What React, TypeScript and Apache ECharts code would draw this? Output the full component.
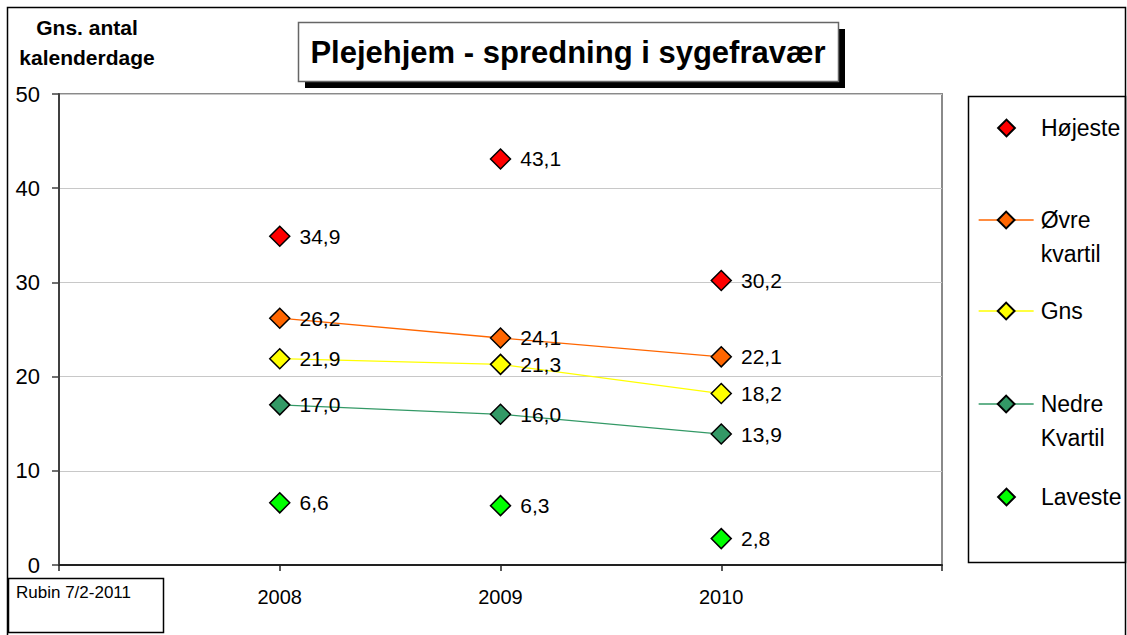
import React, { useEffect, useRef } from "react";
import * as echarts from "echarts";

const categories = ["", "2008", "2009", "2010", ""];
const seriesNames = ["Højeste", "Øvre kvartil", "Gns", "Nedre Kvartil", "Laveste"];
const hojeste = [34.9, 43.1, 30.2];
const ovreKvartil = [26.2, 24.1, 22.1];
const gns = [21.9, 21.3, 18.2];
const nedreKvartil = [17.0, 16.0, 13.9];
const laveste = [6.6, 6.3, 2.8];
const seriesValues = [hojeste, ovreKvartil, gns, nedreKvartil, laveste];
const seriesColors = ["#FF0000", "#FF6600", "#FFFF00", "#339966", "#00FF00"];
const seriesHasLine = [false, true, true, true, false];
const yTicks = { min: 0, max: 50, interval: 10 };

const FONT = "Arial, 'Liberation Sans', sans-serif";

export default function App() {
  const ref = useRef<HTMLDivElement>(null);

  useEffect(() => {
    if (!ref.current) return;
    const chart = echarts.init(ref.current, null, { renderer: "svg" });

    const pad = (arr: number[]) => [null, ...arr, null];

    const series = seriesNames.map((name, i) => ({
      name,
      type: "line",
      data: pad(seriesValues[i]),
      symbol: "diamond",
      symbolSize: 20,
      showSymbol: true,
      connectNulls: false,
      itemStyle: { color: seriesColors[i], borderColor: "#000", borderWidth: 1.5 },
      lineStyle: seriesHasLine[i]
        ? { color: seriesColors[i], width: 1.3 }
        : { color: seriesColors[i], width: 1, opacity: 0 },
      label: {
        show: true,
        position: "right",
        distance: 9,
        color: "#000",
        fontSize: 21,
        fontFamily: FONT,
        formatter: (p: any) => (p.value == null ? "" : Number(p.value).toFixed(1).replace(".", ",")),
      },
      emphasis: { disabled: true },
      z: 3 + i,
    }));

    // legend layout: first-line center y for each entry
    const legendY = [128, 220, 311, 404, 497];
    const lineH = 34;
    const legends = seriesNames.map((name, i) => {
      const twoLine = name.includes(" ");
      return {
        data: [name],
        orient: "vertical",
        left: 978,
        top: twoLine ? legendY[i] - lineH * 1.5 : legendY[i] - lineH / 2,
        padding: 0,
        itemWidth: 55,
        itemHeight: 21,
        itemGap: 0,
        selectedMode: false,
        formatter: (n: string) => (n.includes(" ") ? "\n" + n.replace(" ", "\n") : n),
        textStyle: {
          fontSize: 23,
          fontFamily: FONT,
          color: "#000",
          lineHeight: lineH,
          padding: [0, 0, 0, 2],
        },
        lineStyle: seriesHasLine[i] ? { width: 1.3 } : { opacity: 0 },
      };
    });

    chart.setOption({
      animation: false,
      backgroundColor: "#fff",
      textStyle: { fontFamily: FONT },
      grid: {
        left: 59,
        top: 94,
        right: 185,
        bottom: 70,
        show: true,
        borderColor: "#8a8a8a",
        borderWidth: 2,
        backgroundColor: "transparent",
      },
      legend: legends,
      xAxis: {
        type: "category",
        data: categories,
        boundaryGap: false,
        axisLine: { lineStyle: { color: "#222", width: 2 } },
        axisTick: { show: true, length: 6, lineStyle: { color: "#222", width: 1.5 } },
        axisLabel: { color: "#000", fontSize: 20, fontFamily: FONT, margin: 22, interval: 0 },
        splitLine: { show: false },
      },
      yAxis: {
        type: "value",
        min: yTicks.min,
        max: yTicks.max,
        interval: yTicks.interval,
        axisLine: { show: true, lineStyle: { color: "#404040", width: 2 } },
        axisTick: { show: true, length: 7, lineStyle: { color: "#404040", width: 1.5 } },
        axisLabel: { color: "#000", fontSize: 22, fontFamily: FONT, margin: 19 },
        splitLine: { show: true, lineStyle: { color: "#c8c8c8", width: 1 } },
      },
      series,
      graphic: [
        // outer frame
        {
          type: "rect",
          z: -10,
          shape: { x: 7.5, y: 7.5, width: 1118, height: 700 },
          style: { fill: "none", stroke: "#000", lineWidth: 1.5 },
        },
        // title shadow
        {
          type: "rect",
          shape: { x: 305, y: 29, width: 540, height: 59 },
          style: { fill: "#000" },
        },
        // title box
        {
          type: "rect",
          shape: { x: 298.5, y: 22.5, width: 540, height: 59 },
          style: { fill: "#fff", stroke: "#666", lineWidth: 1.5 },
        },
        {
          type: "text",
          x: 568,
          y: 52,
          style: {
            text: "Plejehjem - spredning i sygefravær",
            fontSize: 31,
            fontWeight: "bold",
            fontFamily: FONT,
            fill: "#000",
            align: "center",
            verticalAlign: "middle",
          },
        },
        // y axis title
        {
          type: "text",
          x: 87,
          y: 42,
          style: {
            text: "Gns. antal\nkalenderdage",
            fontSize: 21,
            fontWeight: "bold",
            fontFamily: FONT,
            fill: "#000",
            align: "center",
            verticalAlign: "middle",
            lineHeight: 30,
          },
        },
        // legend frame
        {
          type: "rect",
          shape: { x: 968.5, y: 96.5, width: 157, height: 466 },
          style: { fill: "none", stroke: "#000", lineWidth: 1.5 },
        },
        // Rubin box
        {
          type: "rect",
          shape: { x: 8.5, y: 578.5, width: 155, height: 54 },
          style: { fill: "#fff", stroke: "#000", lineWidth: 1.5 },
        },
        {
          type: "text",
          x: 16,
          y: 592,
          style: {
            text: "Rubin 7/2-2011",
            fontSize: 17,
            fontFamily: FONT,
            fill: "#000",
            align: "left",
            verticalAlign: "middle",
          },
        },
      ],
    });

    return () => chart.dispose();
  }, []);

  return (
    <div
      ref={ref}
      style={{ position: "fixed", left: 0, top: 0, width: 1127, height: 635, background: "#fff" }}
    />
  );
}
